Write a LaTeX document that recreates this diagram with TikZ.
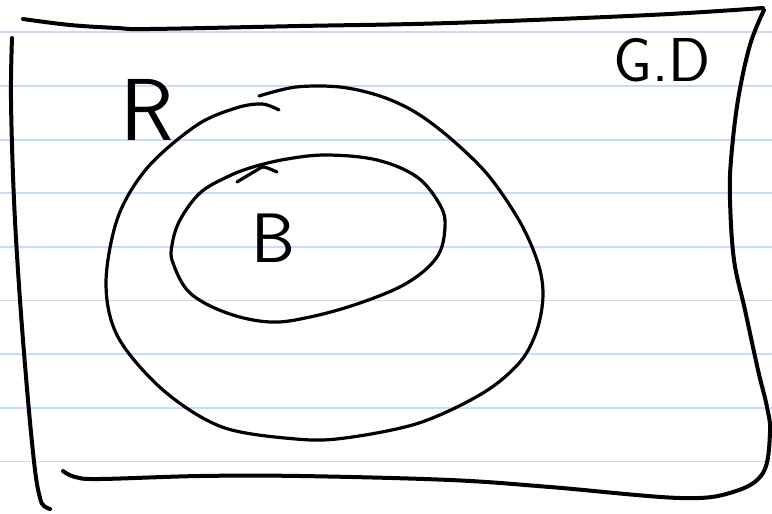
\documentclass[tikz,border=0pt]{standalone}
\usepackage{fontspec}
\definecolor{ruleblue}{RGB}{198,220,250}
\begin{document}
\begin{tikzpicture}[x=1pt,y=-1pt,
  ink/.style={line width=3.2pt, line cap=round, line join=round},
  frameink/.style={line width=4pt, line cap=round, line join=round},
  rule/.style={draw=ruleblue, line width=1.8pt},
  hand/.style={font=\sffamily, inner sep=0pt}]
\useasboundingbox (0,0) rectangle (772,514);
\fill[white] (0,0) rectangle (772,514);
\foreach \k in {0,...,8}
  \draw[rule] (0,{32.3+53.65*\k}) -- (772,{32.3+53.65*\k});
% frame
\draw[frameink] plot[smooth, tension=0.6] coordinates {(23,19) (70,25) (117,28) (150,29) (300,26) (450,23) (650,15) (763,8)};
\draw[frameink] plot[smooth, tension=0.6] coordinates {(764,10) (750,45) (738,100) (731,160) (730,200) (734,260) (745,310) (758,370) (767,407) (770,433) (763,473) (733,492) (680,498) (550,487) (450,480) (300,476) (200,476) (100,479) (75,477) (63,471)};
\draw[frameink] plot[smooth, tension=0.6] coordinates {(12,38) (11,100) (14,200) (20,300) (28,400) (35,470) (40,498) (44,506) (50,509)};
% outer region R
\draw[ink] plot[smooth, tension=0.55] coordinates {(259,96) (296,87) (340,87) (380,96) (415,112) (450,138) (488,175) (520,222) (538,263) (543,295) (537,330) (520,362) (483,393) (419,423) (345,438) (296,439) (222,427) (163,390) (118,337) (106,283) (118,217) (148,167) (197,125) (236,108) (262,104) (279,110)};
% inner region B
\draw[ink] plot[smooth cycle, tension=0.6] coordinates {(327,155) (377,160) (417,177) (440,205) (445,227) (437,257) (407,283) (360,303) (310,317) (270,322) (227,313) (190,293) (173,263) (172,245) (180,220) (200,193) (227,177) (253,167) (287,159)};
\draw[ink] plot[smooth, tension=0.5] coordinates {(237,182) (257,170) (264,167) (277,172)};
% labels
\node[hand, font=\sffamily\fontsize{88}{88}\selectfont] (r) at (147,110) {R};
\node[hand, font=\sffamily\fontsize{70}{70}\selectfont] (b) at (273,238) {B};
\node[hand, font=\sffamily\fontsize{62}{62}\selectfont] (gd) at (662,60) {G.D};
\end{tikzpicture}
\end{document}
